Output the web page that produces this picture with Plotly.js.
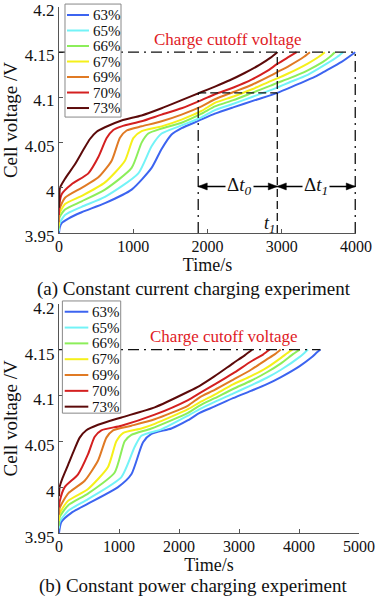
<!DOCTYPE html>
<html><head><meta charset="utf-8">
<script src="https://cdn.plot.ly/plotly-3.0.1.min.js"></script>
<style>html,body{margin:0;padding:0;background:#fff}#chart{width:379px;height:596px}</style>
</head><body><div id="chart"></div>
<script>
const socLabels = ['63%','65%','66%','67%','69%','70%','73%'];
const colors = ['#3c64f0','#73f3f7','#8cee5a','#f5f01a','#e07a24','#d42020','#5c0a0a'];
const yTicks = [3.95, 4, 4.05, 4.1, 4.15, 4.2];
const yTickText = ['3.95','4','4.05','4.1','4.15','4.2'];
const xTicksA = [0, 1000, 2000, 3000, 4000];
const xTicksB = [0, 1000, 2000, 3000, 4000, 5000];

// (a) constant current charging
const ccT63 = [0, 10, 36, 126, 305, 619, 978, 1247, 1382, 1516, 1651, 1875, 2100, 2346, 2640, 2940, 3244, 3450, 3603, 3800, 3990];
const ccV63 = [3.950, 3.956, 3.961, 3.966, 3.973, 3.983, 3.998, 4.022, 4.043, 4.059, 4.066, 4.074, 4.082, 4.089, 4.097, 4.105, 4.1155, 4.123, 4.130, 4.139, 4.150];
const ccT65 = [0, 5, 81, 305, 619, 1068, 1247, 1382, 1651, 1920, 2100, 2350, 2600, 2850, 2940, 3100, 3350, 3600, 3750, 3827];
const ccV65 = [3.952, 3.960, 3.970, 3.979, 3.990, 4.016, 4.046, 4.060, 4.069, 4.078, 4.086, 4.093, 4.1005, 4.108, 4.111, 4.1165, 4.125, 4.137, 4.145, 4.150];
const ccT66 = [0, 5, 81, 305, 619, 978, 1113, 1202, 1382, 1651, 1920, 2100, 2350, 2600, 2850, 2940, 3100, 3350, 3550, 3650, 3715];
const ccV66 = [3.955, 3.967, 3.976, 3.985, 3.998, 4.022, 4.050, 4.060, 4.0656, 4.072, 4.082, 4.090, 4.097, 4.105, 4.113, 4.116, 4.121, 4.130, 4.139, 4.145, 4.150];
const ccT67 = [0, 5, 81, 305, 619, 888, 1001, 1113, 1382, 1651, 1920, 2100, 2350, 2600, 2850, 2940, 3100, 3350, 3500, 3580];
const ccV67 = [3.958, 3.971, 3.982, 3.991, 4.006, 4.030, 4.055, 4.0627, 4.068, 4.0755, 4.085, 4.094, 4.101, 4.109, 4.118, 4.121, 4.127, 4.1375, 4.145, 4.150];
const ccT69 = [0, 5, 81, 305, 530, 709, 821, 911, 1113, 1382, 1651, 1920, 2100, 2350, 2600, 2850, 2940, 3100, 3300, 3380];
const ccV69 = [3.962, 3.976, 3.989, 4.000, 4.0116, 4.030, 4.0554, 4.0634, 4.068, 4.0736, 4.081, 4.090, 4.098, 4.106, 4.114, 4.124, 4.128, 4.135, 4.145, 4.150];
const ccT70 = [0, 5, 36, 170, 395, 530, 642, 731, 843, 1113, 1382, 1651, 1920, 2100, 2350, 2600, 2800, 2940, 3100, 3200];
const ccV70 = [3.970, 3.982, 3.993, 4.004, 4.016, 4.034, 4.055, 4.064, 4.068, 4.0736, 4.081, 4.088, 4.097, 4.1035, 4.111, 4.120, 4.129, 4.137, 4.145, 4.150];
const ccT73 = [0, 5, 13, 81, 215, 328, 417, 507, 619, 843, 1113, 1382, 1651, 1920, 2100, 2300, 2500, 2700, 2850, 2940];
const ccV73 = [3.978, 3.990, 4.000, 4.010, 4.026, 4.042, 4.054, 4.062, 4.067, 4.0745, 4.080, 4.088, 4.097, 4.106, 4.112, 4.119, 4.127, 4.136, 4.144, 4.150];

// (b) constant power charging
const cpT63 = [0, 39, 206, 484, 984, 1206, 1401, 1540, 1873, 2151, 2345, 2595, 2900, 3200, 3457, 3700, 4012, 4200, 4300, 4357];
const cpV63 = [3.950, 3.962, 3.972, 3.982, 4.000, 4.014, 4.049, 4.058, 4.064, 4.073, 4.081, 4.088, 4.097, 4.105, 4.112, 4.120, 4.132, 4.141, 4.147, 4.150];
const cpT65 = [0, 10, 150, 484, 1040, 1262, 1373, 1706, 2151, 2345, 2595, 2900, 3200, 3457, 3700, 4012, 4100, 4150];
const cpV65 = [3.955, 3.962, 3.974, 3.987, 4.011, 4.044, 4.056, 4.063, 4.078, 4.085, 4.093, 4.102, 4.111, 4.119, 4.128, 4.142, 4.147, 4.150];
const cpT66 = [0, 10, 150, 484, 928, 1095, 1206, 1540, 2151, 2345, 2595, 2900, 3200, 3457, 3700, 3900, 4012];
const cpV66 = [3.958, 3.967, 3.980, 3.993, 4.016, 4.050, 4.057, 4.064, 4.081, 4.089, 4.097, 4.107, 4.116, 4.125, 4.135, 4.145, 4.150];
const cpT67 = [0, 10, 150, 484, 817, 956, 1067, 1373, 1595, 2151, 2345, 2595, 2900, 3200, 3457, 3700, 3800, 3889];
const cpV67 = [3.963, 3.971, 3.985, 3.998, 4.022, 4.050, 4.059, 4.064, 4.069, 4.085, 4.0925, 4.101, 4.112, 4.121, 4.130, 4.141, 4.146, 4.150];
const cpT69 = [0, 10, 150, 428, 651, 790, 901, 1206, 1595, 2151, 2345, 2595, 2900, 3200, 3457, 3600, 3695];
const cpV69 = [3.970, 3.977, 3.993, 4.007, 4.029, 4.054, 4.062, 4.067, 4.074, 4.089, 4.098, 4.106, 4.117, 4.128, 4.139, 4.145, 4.150];
const cpT70 = [0, 10, 95, 317, 484, 595, 706, 1040, 1595, 2151, 2345, 2595, 2900, 3200, 3400, 3512];
const cpV70 = [3.978, 3.984, 4.000, 4.014, 4.036, 4.055, 4.062, 4.067, 4.079, 4.095, 4.1025, 4.112, 4.124, 4.137, 4.1445, 4.150];
const cpT73 = [0, 10, 60, 150, 250, 345, 456, 651, 1040, 1595, 2151, 2345, 2595, 2900, 3100, 3223];
const cpV73 = [3.990, 4.000, 4.010, 4.024, 4.040, 4.054, 4.062, 4.068, 4.076, 4.087, 4.104, 4.1105, 4.121, 4.135, 4.144, 4.150];

const ccT = [ccT63, ccT65, ccT66, ccT67, ccT69, ccT70, ccT73];
const ccV = [ccV63, ccV65, ccV66, ccV67, ccV69, ccV70, ccV73];
const cpT = [cpT63, cpT65, cpT66, cpT67, cpT69, cpT70, cpT73];
const cpV = [cpV63, cpV65, cpV66, cpV67, cpV69, cpV70, cpV73];

// reference markers
const vCut = 4.15;
const tLeft = 1875, tOne = 2940, tEnd = 3990, vMid = 4.105, vArrow = 4.0015;
const tEndB = 4357;

const FONT = 'Liberation Serif';
const traces = [];
socLabels.forEach((lab, i) => {
  traces.push({x: ccT[i], y: ccV[i], xaxis: 'x', yaxis: 'y', type: 'scatter', mode: 'lines', name: lab,
    line: {color: colors[i], width: 2, shape: 'spline', smoothing: 0.6}, showlegend: false, hoverinfo: 'skip'});
  traces.push({x: cpT[i], y: cpV[i], xaxis: 'x2', yaxis: 'y2', type: 'scatter', mode: 'lines', name: lab,
    line: {color: colors[i], width: 2, shape: 'spline', smoothing: 0.6}, showlegend: false, hoverinfo: 'skip'});
});

const DASHDOT = '11px,5px,2px,5px';
const DASH = '8px,4px';
const blk = (dash, w) => ({color: '#111', width: w || 1.3, dash: dash});
const head = (t, dir) => ({type: 'path', xref: 'x', yref: 'y', xsizemode: 'pixel', ysizemode: 'pixel', xanchor: t, yanchor: vArrow,
  path: dir < 0 ? 'M0,0 L9,3.5 L9,-3.5 Z' : 'M0,0 L-9,3.5 L-9,-3.5 Z', fillcolor: '#000', line: {color: '#000', width: 0.5}});
const shapes = [
  {type: 'line', xref: 'x', yref: 'y', x0: 0, x1: tEnd, y0: vCut, y1: vCut, line: blk(DASHDOT)},
  {type: 'line', xref: 'x', yref: 'y', x0: tOne, x1: tOne, y0: 3.95, y1: vCut, line: blk(DASH)},
  {type: 'line', xref: 'x', yref: 'y', x0: tLeft, x1: tLeft, y0: 3.95, y1: vMid, line: blk(DASHDOT)},
  {type: 'line', xref: 'x', yref: 'y', x0: tLeft, x1: tOne, y0: vMid, y1: vMid, line: blk(DASH)},
  {type: 'line', xref: 'x', yref: 'y', x0: tEnd, x1: tEnd, y0: 3.95, y1: vCut, line: blk(DASHDOT)},
  {type: 'line', xref: 'x2', yref: 'y2', x0: 0, x1: tEndB, y0: vCut, y1: vCut, line: blk(DASHDOT)},
  // double arrows
  {type: 'line', xref: 'x', yref: 'y', x0: tLeft, x1: tOne, y0: vArrow, y1: vArrow, line: {color: '#000', width: 1.5}},
  {type: 'line', xref: 'x', yref: 'y', x0: tOne, x1: tEnd, y0: vArrow, y1: vArrow, line: {color: '#000', width: 1.5}},
  head(tLeft, -1), head(tOne, 1), head(tOne, -1), head(tEnd, 1),
  // legend boxes
  {type: 'rect', xref: 'x domain', yref: 'y domain', x0: 0.0202, x1: 0.2088, y0: 0.513, y1: 1.013,
    fillcolor: '#fff', line: {color: '#888', width: 1}},
  {type: 'rect', xref: 'x2 domain', yref: 'y2 domain', x0: 0.0113, x1: 0.2057, y0: 0.5227, y1: 1.012,
    fillcolor: '#fff', line: {color: '#888', width: 1}}
];
const annotations = [];
socLabels.forEach((lab, i) => {
  const ya = 0.9646 - 0.0686 * i;
  const yb = 0.965 - 0.069 * i;
  shapes.push({type: 'line', xref: 'x domain', yref: 'y domain', x0: 0.0269, x1: 0.101, y0: ya, y1: ya, line: {color: colors[i], width: 2}});
  shapes.push({type: 'line', xref: 'x2 domain', yref: 'y2 domain', x0: 0.019, x1: 0.0977, y0: yb, y1: yb, line: {color: colors[i], width: 2}});
  annotations.push({xref: 'x domain', yref: 'y domain', x: 0.108, y: ya, xanchor: 'left', yanchor: 'middle', text: lab, showarrow: false, font: {family: FONT, size: 15, color: '#111'}});
  annotations.push({xref: 'x2 domain', yref: 'y2 domain', x: 0.1023, y: yb, xanchor: 'left', yanchor: 'middle', text: lab, showarrow: false, font: {family: FONT, size: 15, color: '#111'}});
});
annotations.push({xref: 'x', yref: 'y', x: (tLeft + tOne) / 2 + 20, y: vArrow, text: 'Δ<i>t</i><sub><i>0</i></sub>', showarrow: false, bgcolor: '#fff', borderpad: 1, font: {family: FONT, size: 19, color: '#111'}});
annotations.push({xref: 'x', yref: 'y', x: (tOne + tEnd) / 2, y: vArrow, text: 'Δ<i>t</i><sub><i>1</i></sub>', showarrow: false, bgcolor: '#fff', borderpad: 1, font: {family: FONT, size: 19, color: '#111'}});
annotations.push({xref: 'x', yref: 'y', x: tOne - 6, y: 3.959, xanchor: 'right', yanchor: 'middle', text: '<i>t</i><sub><i>1</i></sub>', showarrow: false, font: {family: FONT, size: 18, color: '#111'}});
annotations.push({xref: 'x', yref: 'y', x: 2275, y: 4.1644, text: 'Charge cutoff voltage', showarrow: false, font: {family: FONT, size: 17, color: '#e0201f'}});
annotations.push({xref: 'x2', yref: 'y2', x: 2745, y: 4.1647, text: 'Charge cutoff voltage', showarrow: false, font: {family: FONT, size: 17, color: '#e0201f'}});
annotations.push({xref: 'paper', yref: 'paper', x: 0.4485, y: 0.4640, xanchor: 'center', yanchor: 'middle', text: '(a) Constant current charging experiment', showarrow: false, font: {family: FONT, size: 19, color: '#111'}});
annotations.push({xref: 'paper', yref: 'paper', x: 0.4485, y: -0.1012, xanchor: 'center', yanchor: 'middle', text: '(b) Constant power charging experiment', showarrow: false, font: {family: FONT, size: 19, color: '#111'}});

const axBase = {showline: true, linecolor: '#555', linewidth: 1, ticks: 'inside', ticklen: 4, tickcolor: '#555',
  showgrid: false, zeroline: false, tickfont: {family: FONT, size: 17, color: '#111'}, fixedrange: true};
const xTickFont = {family: FONT, size: 16, color: '#111'};
const layout = {
  width: 379, height: 596, margin: {l: 59, r: 19, t: 7, b: 63},
  paper_bgcolor: '#fff', plot_bgcolor: '#fff', showlegend: false,
  font: {family: FONT, color: '#111'},
  xaxis: Object.assign({}, axBase, {domain: [0, 0.9867], range: [0, 4000], tickvals: xTicksA, anchor: 'y',
    tickfont: xTickFont, ticklabelstandoff: -1,
    title: {text: 'Time/s', font: {family: FONT, size: 18}, standoff: 0}}),
  yaxis: Object.assign({}, axBase, {domain: [0.5703, 1], range: [3.95, 4.2], tickvals: yTicks, ticktext: yTickText, anchor: 'x',
    ticklabeloverflow: 'allow', ticklabelshift: 3,
    title: {text: 'Cell voltage /V', font: {family: FONT, size: 19}, standoff: 2}}),
  xaxis2: Object.assign({}, axBase, {domain: [0, 0.9967], range: [0, 5000], tickvals: xTicksB, anchor: 'y2',
    tickfont: xTickFont, ticklabelstandoff: -1,
    title: {text: 'Time/s', font: {family: FONT, size: 18}, standoff: 0}}),
  yaxis2: Object.assign({}, axBase, {domain: [0, 0.4359], range: [3.95, 4.2], tickvals: yTicks, ticktext: yTickText, anchor: 'x2',
    ticklabeloverflow: 'allow', ticklabelshift: 4,
    title: {text: 'Cell voltage /V', font: {family: FONT, size: 19}, standoff: 2}}),
  shapes: shapes, annotations: annotations
};
Plotly.newPlot('chart', traces, layout, {staticPlot: true, displayModeBar: false});
</script></body></html>
